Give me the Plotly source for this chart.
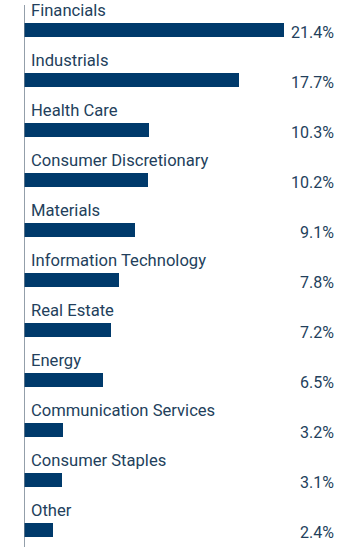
import plotly.graph_objects as go

categories = ["Financials", "Industrials", "Health Care", "Consumer Discretionary",
              "Materials", "Information Technology", "Real Estate", "Energy",
              "Communication Services", "Consumer Staples", "Other"]
values = [21.4, 17.7, 10.3, 10.2, 9.1, 7.8, 7.2, 6.5, 3.2, 3.1, 2.4]
value_labels = [f"{v:.1f}%" for v in values]

BAR = "#003a6b"
TXT = "#233f5c"
FONT = "Roboto"

pos = list(range(len(categories)))

fig = go.Figure()
fig.add_trace(go.Bar(
    x=values, y=pos, orientation="h", width=0.29,
    marker=dict(color=BAR, line=dict(width=0)),
    hoverinfo="skip",
))

annotations = []
for i, (c, lab) in enumerate(zip(categories, value_labels)):
    annotations.append(dict(
        x=0, y=i - 0.39, xref="x", yref="y", text=c, showarrow=False,
        xanchor="left", yanchor="middle", xshift=5,
        font=dict(family=FONT, size=16.6, color=TXT),
    ))
    annotations.append(dict(
        x=1, y=i + 0.04, xref="paper", yref="y", text=lab, showarrow=False,
        xanchor="right", yanchor="middle", xshift=-24,
        font=dict(family=FONT, size=16, color=TXT),
    ))

fig.add_shape(type="line", xref="x", yref="y", x0=0, x1=0, y0=-0.5, y1=10.5,
              line=dict(color="#6f7f8e", width=1.5))

fig.update_layout(
    width=360, height=547,
    margin=dict(l=24, r=0, t=0, b=0),
    paper_bgcolor="white", plot_bgcolor="white",
    showlegend=False,
    annotations=annotations,
    xaxis=dict(range=[0, 336 / 12.15], visible=False, fixedrange=True),
    yaxis=dict(range=[(547 - 30) / 50, -0.6], visible=False, fixedrange=True),
    bargap=0,
)

fig.write_html("out.html", config={"displayModeBar": False},
               post_script="document.body.style.margin='0';document.body.style.overflow='hidden';")
